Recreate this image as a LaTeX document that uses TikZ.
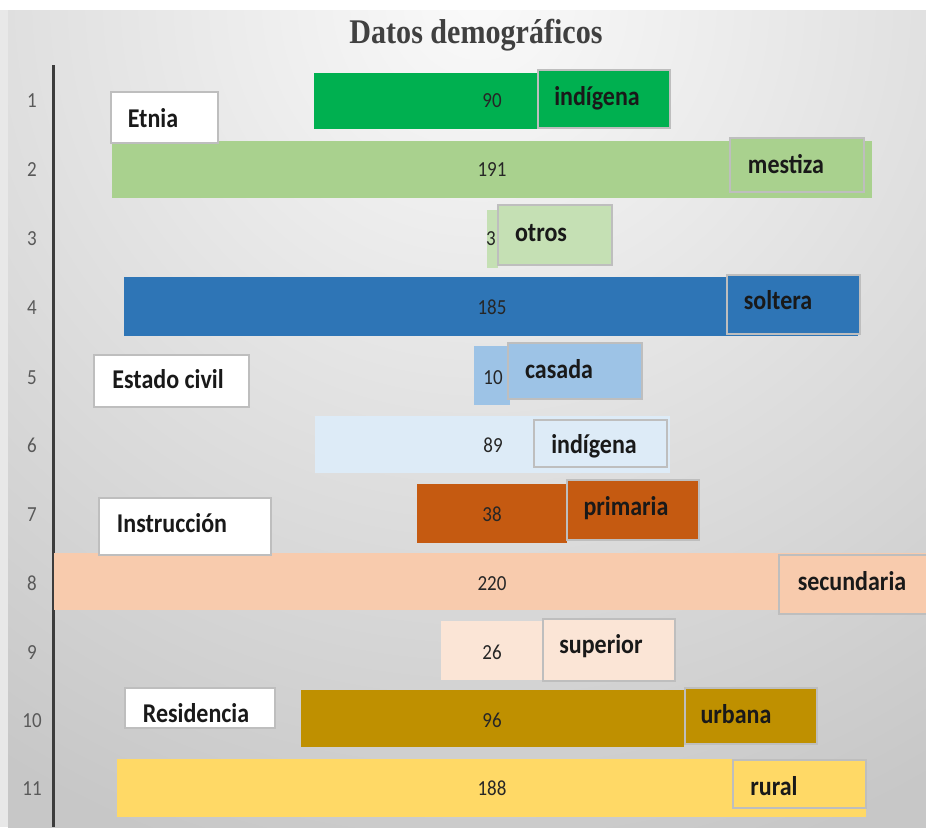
\documentclass[tikz,border=0pt]{standalone}
\usepackage{graphicx}
\usepackage{fontspec}
\setmainfont{Carlito}
\newfontfamily\titlefont{Liberation Serif}
\definecolor{c1}{RGB}{0,176,80}
\definecolor{c2}{RGB}{169,209,142}
\definecolor{c3}{RGB}{197,224,180}
\definecolor{c4}{RGB}{46,117,182}
\definecolor{c5}{RGB}{157,195,230}
\definecolor{c6}{RGB}{221,235,247}
\definecolor{c7}{RGB}{197,90,17}
\definecolor{c8}{RGB}{248,203,173}
\definecolor{c9}{RGB}{251,229,214}
\definecolor{c10}{RGB}{191,144,0}
\definecolor{c11}{RGB}{255,217,102}
\definecolor{boxborder}{RGB}{190,190,190}
\definecolor{titlegray}{RGB}{64,64,64}
\definecolor{numgray}{RGB}{89,89,89}
\definecolor{axisgray}{RGB}{60,60,60}
\newcommand\vstr[1]{\scalebox{1}[1.13]{#1}}
\newcommand\tstr[1]{\scalebox{0.94}[1.08]{#1}}
\tikzset{
  labbox/.style={draw=boxborder,line width=1.3pt},
  catbox/.style={draw=boxborder,line width=1.3pt,fill=white},
  labtxt/.style={anchor=base,inner sep=0pt,text=black!90,font=\fontsize{24}{24}\selectfont\bfseries},
  valtxt/.style={anchor=base,inner sep=0pt,text=black!85,font=\fontsize{19}{19}\selectfont},
  numtxt/.style={anchor=base,inner sep=0pt,text=numgray,font=\fontsize{19}{19}\selectfont},
}
\begin{document}
\begin{tikzpicture}[x=1pt,y=-1pt]
\useasboundingbox (0,0) rectangle (926,827);
\fill[white] (0,0) rectangle (926,827);
% background
\begin{scope}
\clip (8,10) rectangle (926,827);
\shade[inner color=black!2,outer color=black!22] (-420,-900) rectangle (1380,900);
\end{scope}
\fill[black!9] (0,10) rectangle (8,827);
% title
\node[anchor=base,inner sep=0pt,text=titlegray,font=\titlefont\fontsize{32}{32}\selectfont\bfseries] (title) at (476,43) {\tstr{Datos demográficos}};
% axis
\coordinate (axtop) at (53,65);
\coordinate (axbot) at (53,827);
\draw[axisgray,line width=3pt] (axtop) -- (axbot);
% row numbers
\foreach \i/\y in {1/100,2/169,3/238,4/307,5/377,6/445,7/514,8/583,9/652,10/720,11/788}{
  \node[numtxt] (n\i) at (32,\y+7) {\vstr{\i}};
}
% row 1
\fill[c1] (314,73) rectangle (537,129);
\draw[labbox,fill=c1] (538,70) rectangle (670,128);
\node[valtxt] (v1) at (492,107) {\vstr{90}};
\node[labtxt] (t1) at (597,105) {\vstr{indígena}};
% row 2
\fill[c2] (112,141) rectangle (872,198);
\draw[labbox,fill=c2] (730,138) rectangle (864,192);
\node[valtxt] (v2) at (492,176) {\vstr{191}};
\node[labtxt] (t2) at (786,173) {\vstr{mestiza}};
% row 3
\fill[c3] (487,210) rectangle (498,268);
\draw[labbox,fill=c3] (498,205) rectangle (612,265);
\node[valtxt] (v3) at (491,245) {\vstr{3}};
\node[labtxt] (t3) at (541,241) {\vstr{otros}};
% row 4
\fill[c4] (124,277) rectangle (858,336);
\draw[labbox,fill=c4] (727,275) rectangle (860,334);
\node[valtxt] (v4) at (492,314) {\vstr{185}};
\node[labtxt] (t4) at (778,309) {\vstr{soltera}};
% row 5
\fill[c5] (474,346) rectangle (510,405);
\draw[labbox,fill=c5] (508,343) rectangle (642,399);
\node[valtxt] (v5) at (493,384) {\vstr{10}};
\node[labtxt] (t5) at (559,378) {\vstr{casada}};
% row 6
\fill[c6] (315,416) rectangle (670,473);
\draw[labbox,fill=c6] (534,420) rectangle (667,467);
\node[valtxt] (v6) at (493,452) {\vstr{89}};
\node[labtxt] (t6) at (594,453) {\vstr{indígena}};
% row 7
\fill[c7] (417,484) rectangle (567,543);
\draw[labbox,fill=c7] (567,480) rectangle (699,540);
\node[valtxt] (v7) at (492,521) {\vstr{38}};
\node[labtxt] (t7) at (626,515) {\vstr{primaria}};
% row 8
\fill[c8] (54,553) rectangle (926,610);
\draw[labbox,fill=c8] (779,555) rectangle (930,614);
\node[valtxt] (v8) at (492,590) {\vstr{220}};
\node[labtxt] (t8) at (852,590) {\vstr{secundaria}};
% row 9
\fill[c9] (441,621) rectangle (545,680);
\draw[labbox,fill=c9] (543,619) rectangle (675,681);
\node[valtxt] (v9) at (492,659) {\vstr{26}};
\node[labtxt] (t9) at (601,653) {\vstr{superior}};
% row 10
\fill[c10] (301,690) rectangle (684,747);
\draw[labbox,fill=c10] (685,688) rectangle (817,744);
\node[valtxt] (v10) at (492,727) {\vstr{96}};
\node[labtxt] (t10) at (736,723) {\vstr{urbana}};
% row 11
\fill[c11] (117,759) rectangle (866,817);
\draw[labbox,fill=c11] (733,760) rectangle (866,808);
\node[valtxt] (v11) at (492,795) {\vstr{188}};
\node[labtxt] (t11) at (774,795) {\vstr{rural}};
% category boxes
\draw[catbox] (111,92) rectangle (218,143);
\node[labtxt] (cat1) at (153,127) {\vstr{Etnia}};
\draw[catbox] (94,355) rectangle (249,407);
\node[labtxt] (cat2) at (168,388) {\vstr{Estado civil}};
\draw[catbox] (99,498) rectangle (271,555);
\node[labtxt] (cat3) at (172,532) {\vstr{Instrucción}};
\draw[catbox] (125,688) rectangle (275,728);
\node[labtxt] (cat4) at (196,722) {\vstr{Residencia}};
\end{tikzpicture}
\end{document}
